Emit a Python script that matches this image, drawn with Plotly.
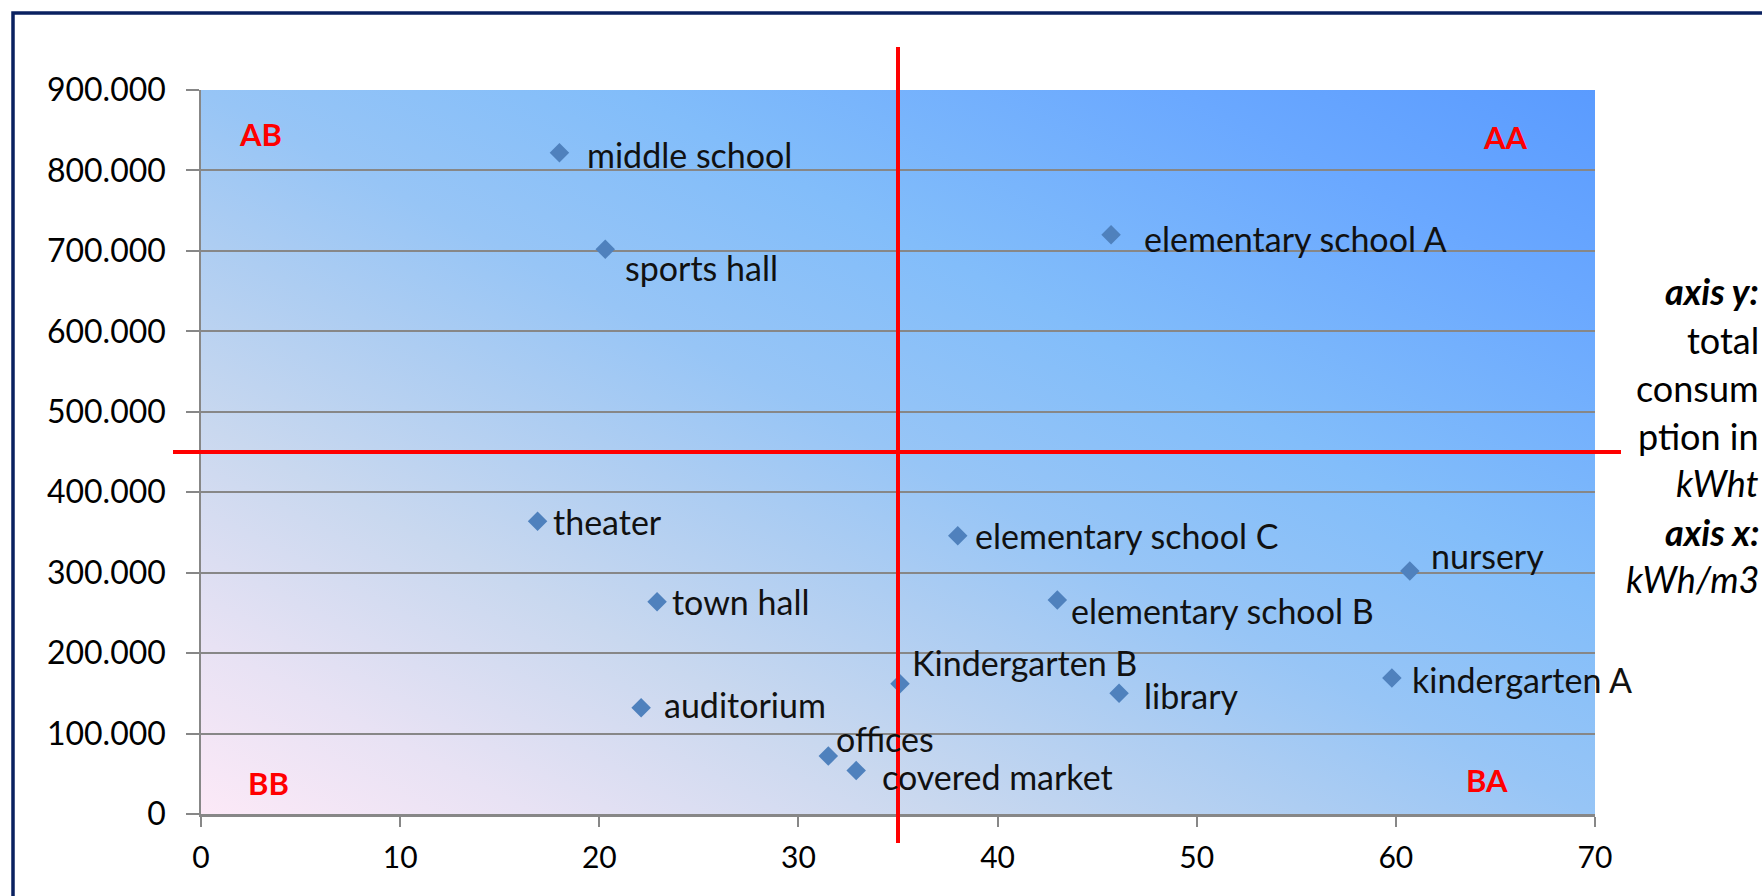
import base64
import plotly.graph_objects as go

# ---------------- data ----------------
buildings = [
    "middle school", "sports hall", "elementary school A", "theater", "town hall",
    "auditorium", "Kindergarten B", "offices", "covered market",
    "elementary school C", "elementary school B", "library", "nursery", "kindergarten A",
]
kwh_per_m3 = [18.0, 20.3, 45.7, 16.9, 22.9, 22.1, 35.1, 31.5, 32.9, 38.0, 43.0, 46.1, 60.7, 59.8]
total_kwh = [822000, 702000, 720000, 364000, 264000, 132000, 162000, 72000, 54000,
             346000, 266000, 150000, 302000, 169000]

quadrant_names = ["AB", "AA", "BB", "BA"]
quadrant_x = [3.0, 65.5, 3.4, 64.6]
quadrant_y = [845000, 842000, 38000, 42000]

x_split = 35
y_split = 450000

x_ticks = [0, 10, 20, 30, 40, 50, 60, 70]
y_ticks = [0, 100000, 200000, 300000, 400000, 500000, 600000, 700000, 800000, 900000]

side_note = ["<b><i>axis y:</i></b>", "total", "consum", "ption in", "<i>kWht</i>",
             "<b><i>axis x:</i></b>", "<i>kWh/m3</i>"]

# ---------------- layout geometry ----------------
W, H = 1762, 896
ML, MR, MT, MB = 201, 167, 90, 82
PW, PH = W - ML - MR, H - MT - MB


def px_x(px):
    return (px - ML) / PW


def px_y(py):
    return (H - MB - py) / PH


FONT = "Lato"
MARKER_BLUE = "#4F81BD"
GRID = "#878787"

# label placement relative to each marker (pixels: right, up)
label_offsets = [
    (26, -2), (18, -18), (31, -4), (13, 0), (13, 0),
    (21, 3), (10, 21), (6, 18), (24, -6),
    (15, 0), (12, -10), (23, -2), (19, 16), (18, -1),
]

# plot-area background: diagonal gradient, pink bottom-left to blue top-right
stops = [
    (0.00, "#FCE9F7"), (0.12, "#E8E2F4"), (0.27, "#C9D8EF"), (0.40, "#ADCDF2"),
    (0.50, "#97C5F6"), (0.65, "#82BDFA"), (0.85, "#6AA8FF"), (1.00, "#5A9BFF"),
]
stop_xml = "".join(f'<stop offset="{o}" stop-color="{c}"/>' for o, c in stops)
svg = (
    f'<svg xmlns="http://www.w3.org/2000/svg" width="{PW}" height="{PH}" '
    f'viewBox="0 0 {PW} {PH}" preserveAspectRatio="none">'
    f'<defs><linearGradient id="g" x1="0" y1="1" x2="1" y2="0">{stop_xml}</linearGradient></defs>'
    f'<rect width="{PW}" height="{PH}" fill="url(#g)"/></svg>'
)
bg_src = "data:image/svg+xml;base64," + base64.b64encode(svg.encode()).decode()

fig = go.Figure()
fig.add_trace(go.Scatter(
    x=kwh_per_m3, y=total_kwh, mode="markers", text=buildings,
    marker=dict(symbol="diamond", size=15, color=MARKER_BLUE, line=dict(width=0)),
    hoverinfo="text+x+y", showlegend=False,
))

annotations = []
for name, xv, yv, (dx, dy) in zip(buildings, kwh_per_m3, total_kwh, label_offsets):
    annotations.append(dict(
        x=xv, y=yv, xref="x", yref="y", text=name, showarrow=False,
        xanchor="left", yanchor="middle", xshift=dx, yshift=dy,
        font=dict(family=FONT, size=34, color="#111111"),
    ))

for name, xv, yv in zip(quadrant_names, quadrant_x, quadrant_y):
    annotations.append(dict(
        x=xv, y=yv, xref="x", yref="y", text=f"<b>{name}</b>", showarrow=False,
        xanchor="center", yanchor="middle",
        font=dict(family=FONT, size=31, color="#FF0000"),
    ))

side_centers = [291, 340, 388, 436, 483, 532, 579]
for line, cy in zip(side_note, side_centers):
    annotations.append(dict(
        x=px_x(1761), y=px_y(cy), xref="paper", yref="paper", text=line,
        showarrow=False, xanchor="right", yanchor="middle",
        font=dict(family=FONT, size=36, color="#000000"),
    ))

shapes = [
    # outer chart frame
    dict(type="rect", xref="paper", yref="paper",
         x0=px_x(13), x1=px_x(1800), y0=px_y(13), y1=px_y(940),
         line=dict(color="#0A2160", width=3.5), fillcolor="rgba(0,0,0,0)", layer="above"),
    # quadrant dividers
    dict(type="line", xref="x", yref="paper", x0=x_split, x1=x_split,
         y0=px_y(843), y1=px_y(47), line=dict(color="#FF0000", width=4), layer="above"),
    dict(type="line", xref="paper", yref="y", x0=px_x(173), x1=px_x(1621),
         y0=y_split, y1=y_split, line=dict(color="#FF0000", width=4), layer="above"),
]

fig.update_layout(
    width=W, height=H,
    margin=dict(l=ML, r=MR, t=MT, b=MB, pad=0),
    paper_bgcolor="white", plot_bgcolor="#99C6F6",
    separators=",.",
    font=dict(family=FONT, color="#000000"),
    images=[dict(source=bg_src, xref="paper", yref="paper", x=0, y=1, sizex=1, sizey=1,
                 sizing="stretch", xanchor="left", yanchor="top", layer="below")],
    annotations=annotations,
    shapes=shapes,
    showlegend=False,
)
fig.update_xaxes(
    range=[0, 70], tickvals=x_ticks, ticks="outside", ticklen=10, tickwidth=2,
    tickcolor=GRID, showline=True, linecolor=GRID, linewidth=2.5, showgrid=False,
    zeroline=False, ticklabelstandoff=5,
    tickfont=dict(family=FONT, size=30, color="#000000"),
)
fig.update_yaxes(
    range=[0, 900000], tickvals=y_ticks, tickformat=",d", ticks="outside", ticklen=13,
    tickwidth=2, tickcolor=GRID, showline=True, linecolor=GRID, linewidth=1.5,
    showgrid=True, gridcolor=GRID, gridwidth=1.5, zeroline=False,
    ticklabelstandoff=14,
    tickfont=dict(family=FONT, size=32, color="#000000"),
)

fig.write_html("out.html", config={"displayModeBar": False})
